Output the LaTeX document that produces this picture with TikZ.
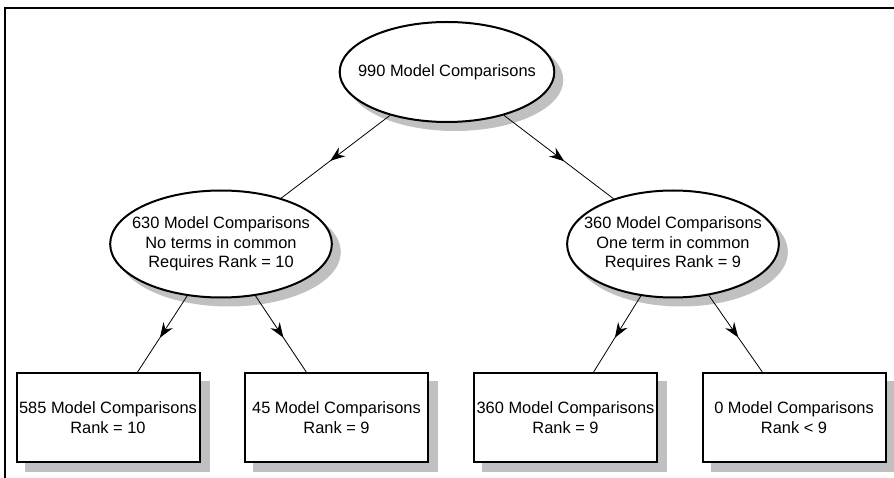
\documentclass[tikz,border=0pt]{standalone}
\usepackage{fontspec}
\setmainfont{Liberation Sans}
\usetikzlibrary{shapes.geometric,arrows.meta,decorations.markings,backgrounds,calc}
\definecolor{shadowgray}{RGB}{192,192,192}
\begin{document}
\begin{tikzpicture}[x=1pt,y=-1pt,
  every node/.style={font=\fontsize{16.4}{19.5}\selectfont, align=center, inner sep=0pt},
  ovalnode/.style={ellipse, draw, line width=2pt, fill=white, inner xsep=-13pt, inner ysep=0pt, minimum height=100pt},
  boxnode/.style={rectangle, draw, line width=2pt, fill=white, minimum width=183pt, minimum height=89pt},
  shadowfill/.style={fill=shadowgray, draw=none},
  link/.style={line width=0.8pt, postaction={decorate},
    decoration={markings, mark=at position 0.55 with {\arrow{Stealth[length=15pt,width=11pt,inset=5pt]}}}}
]
\useasboundingbox (0,0) rectangle (894,478);
\draw[line width=2pt] (5,478) -- (5,8) -- (894,8);

\node[ovalnode] (top) at (447,72) {990 Model Comparisons};
\node[ovalnode, inner xsep=-10.5pt, minimum height=107pt] (left) at (221,244)
  {630 Model Comparisons\\No terms in common\\Requires Rank = 10};
\node[ovalnode, inner xsep=-14pt, minimum height=107pt] (right) at (673,244)
  {360 Model Comparisons\\One term in common\\Requires Rank = 9};

\node[boxnode] (b1) at (108,417.5) {585 Model Comparisons\\Rank = 10};
\node[boxnode] (b2) at (336.5,417.5) {45 Model Comparisons\\Rank = 9};
\node[boxnode] (b3) at (565.5,417.5) {360 Model Comparisons\\Rank = 9};
\node[boxnode] (b4) at (794,417.5) {0 Model Comparisons\\Rank < 9};

\begin{scope}[on background layer]
  \foreach \e in {top,left,right}{
    \path let \p1=($(\e.east)-(\e.west)$), \p2=($(\e.north)-(\e.south)$) in
      [shadowfill] ($(\e.center)+(8,8)$) ellipse [x radius={0.5*abs(\x1)}, y radius={0.5*abs(\y2)}];
  }
  \foreach \b in {b1,b2,b3,b4}{
    \fill[shadowfill] ($(\b.north west)+(9,9)$) rectangle ($(\b.south east)+(9,9)$);
  }
\end{scope}

\draw[link] (top) -- (left);
\draw[link] (top) -- (right);
\draw[link] (left) -- (b1);
\draw[link] (left) -- (b2);
\draw[link] (right) -- (b3);
\draw[link] (right) -- (b4);
\end{tikzpicture}
\end{document}
